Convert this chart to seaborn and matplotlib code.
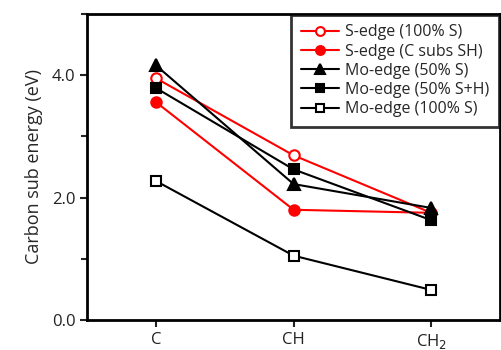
import numpy as np
import pandas as pd
import seaborn as sns
import matplotlib.pyplot as plt
from matplotlib.ticker import MultipleLocator, FormatStrFormatter

sites = ['C', 'CH', 'CH$_2$']
s_edge_100 = [3.95, 2.69, 1.75]
s_edge_csh = [3.56, 1.80, 1.75]
mo_edge_50 = [4.16, 2.22, 1.83]
mo_edge_50h = [3.79, 2.46, 1.63]
mo_edge_100 = [2.27, 1.05, 0.49]

series = [
    ('S-edge (100% S)', s_edge_100, 'red', 'o', 'white'),
    ('S-edge (C subs SH)', s_edge_csh, 'red', 'o', 'red'),
    ('Mo-edge (50% S)', mo_edge_50, 'black', '^', 'black'),
    ('Mo-edge (50% S+H)', mo_edge_50h, 'black', 's', 'black'),
    ('Mo-edge (100% S)', mo_edge_100, 'black', 's', 'white'),
]

sns.set_theme(style="ticks")
plt.rcParams['font.family'] = ['Open Sans', 'DejaVu Sans']

fig = plt.figure(figsize=(5.01, 3.5), dpi=100)
ax = fig.add_axes([0.174, 0.086, 0.824, 0.874])

for name, vals, col, mk, fc in series:
    df = pd.DataFrame({'x': np.arange(len(sites)), 'y': vals})
    sns.lineplot(data=df, x='x', y='y', ax=ax, color=col, marker=mk,
                 markersize=7.5 if mk != '^' else 9, markerfacecolor=fc,
                 markeredgecolor=col, markeredgewidth=1.5, linewidth=1.5,
                 label=name)

ax.set_xlim(-0.5, 2.5)
ax.set_ylim(0, 5)
ax.set_xticks(range(len(sites)))
ax.set_xticklabels(sites)
ax.yaxis.set_major_locator(MultipleLocator(2))
ax.yaxis.set_minor_locator(MultipleLocator(1))
ax.yaxis.set_major_formatter(FormatStrFormatter('%.1f'))
ax.set_xlabel('')
ax.set_ylabel('Carbon sub energy (eV)', fontsize=13, labelpad=6)

for sp in ax.spines.values():
    sp.set_linewidth(2)
    sp.set_color('black')
ax.tick_params(axis='both', labelsize=12, colors='#222222', width=1.5, length=5)
ax.tick_params(axis='y', which='minor', length=4, width=1.5)
ax.tick_params(axis='y', which='both', right=True)
ax.tick_params(axis='x', top=False)

leg = ax.legend(loc='upper right', fontsize=11.5, frameon=True, fancybox=False,
                edgecolor='black', handlelength=2.4, handletextpad=0.4,
                labelspacing=0.2, borderpad=0.6, borderaxespad=0.05,
                markerscale=0.85)
leg.get_frame().set_linewidth(2)

fig.savefig('out.png', dpi=100)
